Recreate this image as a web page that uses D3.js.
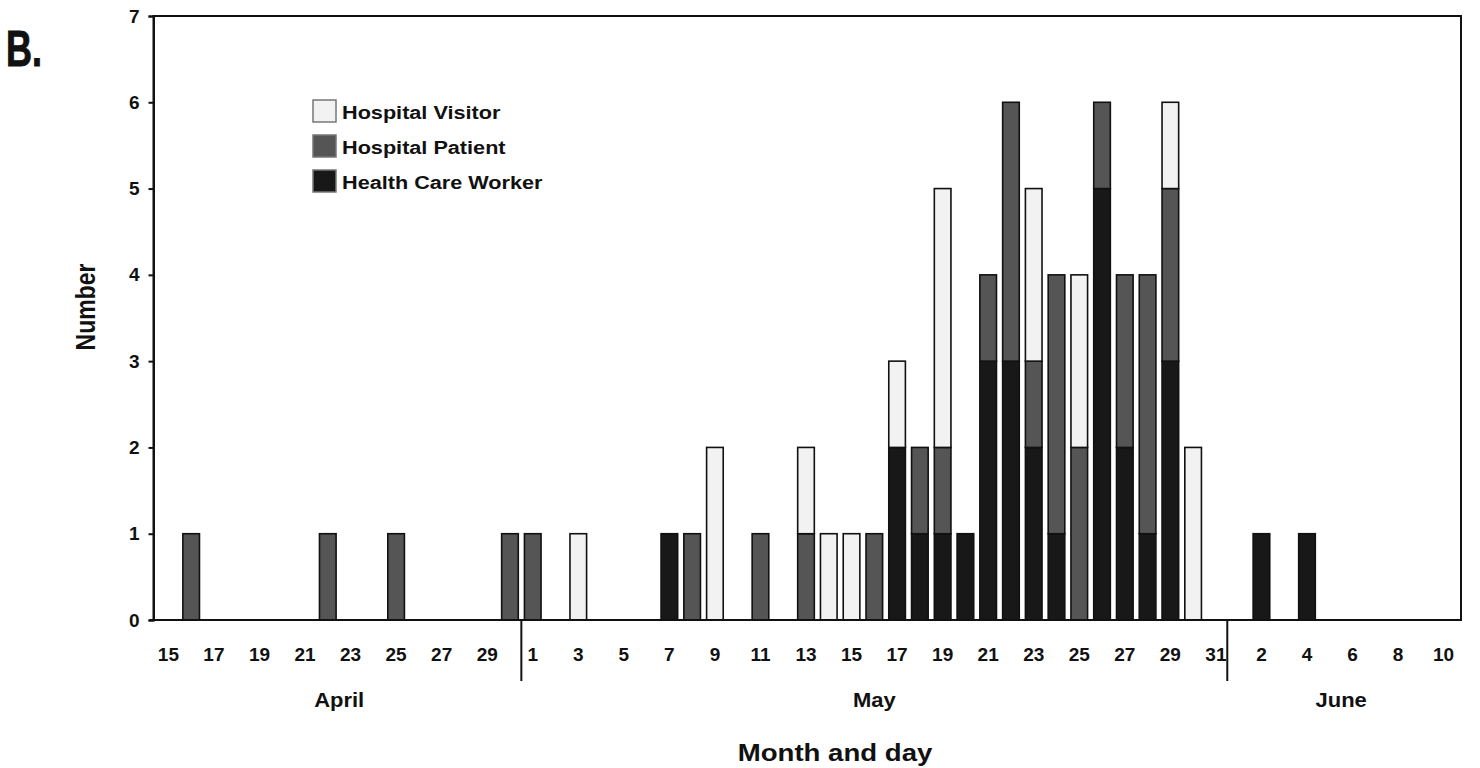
<!DOCTYPE html>
<html><head><meta charset="utf-8">
<script src="https://cdn.jsdelivr.net/npm/d3@7"></script>
<style>body{margin:0;background:#fff;} svg{display:block;} text{font-family:"Liberation Sans",Arial,sans-serif;font-weight:bold;fill:#111;}</style>
</head><body>
<svg id="c" width="1480" height="768"></svg>
<script>
// Day labels (April 15 .. June 10)
const days = ["15","16","17","18","19","20","21","22","23","24","25","26","27","28","29","30",
  "1","2","3","4","5","6","7","8","9","10","11","12","13","14","15","16","17","18","19","20","21","22","23","24","25","26","27","28","29","30","31",
  "1","2","3","4","5","6","7","8","9","10"];
const months = ["April","May","June"];
const monthLengths = [16, 31, 10];
const seriesNames = ["Health Care Worker","Hospital Patient","Hospital Visitor"];
// counts per day (index aligned with days)
const healthCareWorker = [0,0,0,0,0,0,0,0,0,0,0,0,0,0,0,0,
  0,0,0,0,0,0,1,0,0,0,0,0,0,0,0,0,2,1,1,1,3,3,2,1,0,5,2,1,3,0,0,
  0,1,0,1,0,0,0,0,0,0];
const hospitalPatient = [0,1,0,0,0,0,0,1,0,0,1,0,0,0,0,1,
  1,0,0,0,0,0,0,1,0,0,1,0,1,0,0,1,0,1,1,0,1,3,1,3,2,1,2,3,2,0,0,
  0,0,0,0,0,0,0,0,0,0];
const hospitalVisitor = [0,0,0,0,0,0,0,0,0,0,0,0,0,0,0,0,
  0,0,1,0,0,0,0,0,2,0,0,0,1,1,1,0,1,0,3,0,0,0,2,0,2,0,0,0,1,2,0,
  0,0,0,0,0,0,0,0,0,0];
const yTicks = [0,1,2,3,4,5,6,7];
const xLabelEvery = 2;
const legendOrder = ["Hospital Visitor","Hospital Patient","Health Care Worker"];

const colors = {"Health Care Worker":"#181818","Hospital Patient":"#555555","Hospital Visitor":"#f2f2f2"};
const svg = d3.select("#c");
const L = 153.5, R = 1461, T = 16, B = 620;

const idx = d3.range(days.length);
const x = d3.scaleBand().domain(idx).range([157, 1455]).paddingInner(0.27).paddingOuter(0.135);
const y = d3.scaleLinear().domain([0,7]).range([B, T]);

const table = idx.map(i => ({i, "Health Care Worker":healthCareWorker[i], "Hospital Patient":hospitalPatient[i], "Hospital Visitor":hospitalVisitor[i]}));
const stacked = d3.stack().keys(seriesNames)(table);

// horizontally widened text (reference glyphs are wide)
function wideText(parent, tx, ty, sx, size, str, anchor) {
  return parent.append("text").attr("transform",`translate(${tx},${ty}) scale(${sx},1)`)
    .attr("text-anchor", anchor || "start").style("font-size", size + "px").text(str);
}

// frame
svg.append("rect").attr("x",L).attr("y",T).attr("width",R-L).attr("height",B-T)
  .attr("fill","none").attr("stroke","#111").attr("stroke-width",2);

// bars
stacked.forEach(s => {
  svg.append("g").selectAll("rect").data(s.filter(d => d[1]-d[0] > 0)).join("rect")
    .attr("x", d => x(d.data.i)).attr("width", x.bandwidth())
    .attr("y", d => y(d[1])).attr("height", d => y(d[0]) - y(d[1]))
    .attr("fill", colors[s.key]).attr("stroke","#111").attr("stroke-width",1.6);
});

// y axis
const ya = svg.append("g").attr("transform",`translate(${L},0)`)
  .call(d3.axisLeft(y).tickValues(yTicks).tickFormat(d3.format("d")).tickSize(5).tickPadding(9));
ya.select(".domain").attr("stroke","#111").attr("stroke-width",2);
ya.selectAll(".tick line").attr("stroke","#111").attr("stroke-width",2);
ya.selectAll("text").style("font-size","19px").style("font-weight","bold").attr("fill","#111");

// x axis labels
const xa = svg.append("g").attr("transform",`translate(0,${B})`)
  .call(d3.axisBottom(x).tickValues(idx.filter(i => i % xLabelEvery === 0)).tickFormat(i => days[i]).tickSize(0).tickPadding(27.5));
xa.select(".domain").attr("stroke","#111").attr("stroke-width",2).attr("d",`M${L-4},0H${R}`);
xa.selectAll("text").style("font-size","19px").style("font-weight","bold").attr("fill","#111");

// month dividers and labels
let start = 0;
months.forEach((m, k) => {
  const end = start + monthLengths[k];
  const x0 = x(start), x1 = x(end-1) + x.bandwidth();
  if (k > 0) {
    const bx = x(start) - x.step()*x.paddingInner()/2;
    svg.append("line").attr("x1",bx).attr("x2",bx).attr("y1",B).attr("y2",B+61)
      .attr("stroke","#111").attr("stroke-width",2);
  }
  wideText(svg, (x0+x1)/2, 707, 1.1, 20, m, "middle");
  start = end;
});

// axis titles
wideText(svg, 835, 761, 1.2, 23, "Month and day", "middle");
svg.append("text").attr("transform","translate(95,307) rotate(-90) scale(1,1.2)").attr("text-anchor","middle").style("font-size","23px").text("Number");

// panel label
svg.append("text").attr("transform","translate(6,66) scale(0.72,1)").style("font-size","50px").style("stroke","#111").style("stroke-width","1px").text("B.");

// legend
const lg = svg.append("g").attr("transform","translate(313,100)");
legendOrder.forEach((k, i) => {
  lg.append("rect").attr("x",0).attr("y",i*35).attr("width",23).attr("height",22)
    .attr("fill",colors[k]).attr("stroke","#777").attr("stroke-width",1.5);
  wideText(lg, 29, i*35+19, 1.14, 19, k);
});
</script>
</body></html>
